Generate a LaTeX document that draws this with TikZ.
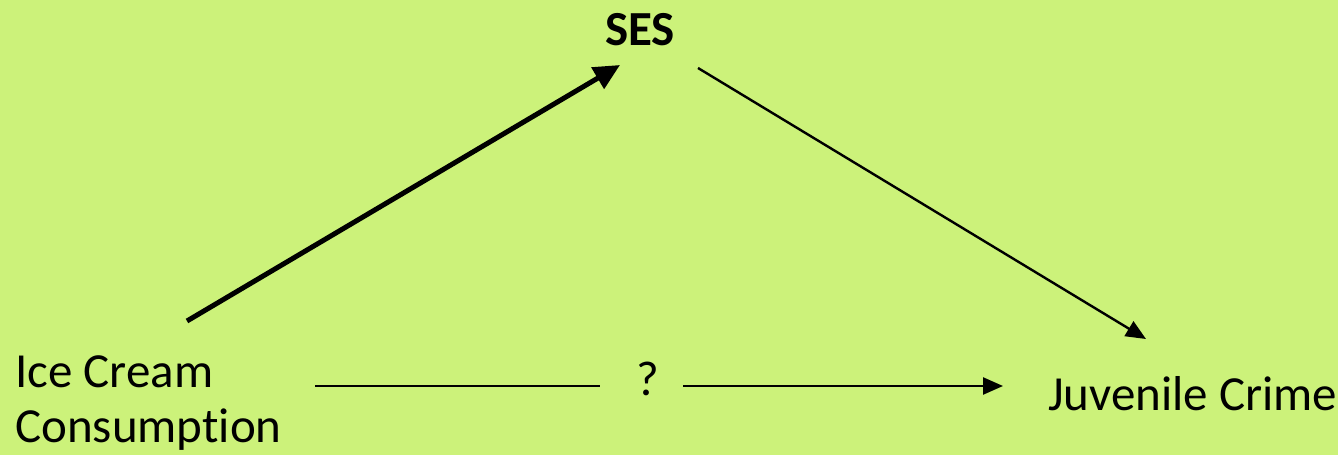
\documentclass[tikz,border=0pt]{standalone}
\usepackage{fontspec}
\setmainfont{Carlito}[Ligatures=NoCommon]
\usetikzlibrary{arrows.meta}
\definecolor{bggreen}{HTML}{CCF27A}
\begin{document}
\begin{tikzpicture}[x=1pt,y=-1pt,
  lbl/.style={inner sep=0pt,font=\fontsize{49}{55}\selectfont},
  thickarrow/.style={line width=5pt,-{Triangle[length=26pt,width=24pt]}},
  thinarrow/.style={line width=2.4pt,-{Triangle[length=20pt,width=17pt]}},
  thinline/.style={line width=2.4pt}]
\fill[bggreen] (0,0) rectangle (1338,455);
\useasboundingbox (0,0) rectangle (1338,455);
\node[lbl,font=\fontsize{49}{55}\selectfont\bfseries,anchor=base] (ses) at (640,45) {SES};
\node[lbl,anchor=base west,align=left] (ice) at (15,442) {Ice Cream\\Consumption};
\node[lbl,anchor=base west] (juv) at (1048,410) {Juvenile Crime};
\node[lbl,anchor=base] (q) at (648,395) {?};
\coordinate (a1) at (187,321);
\coordinate (a2) at (620,65);
\coordinate (b1) at (698,68);
\coordinate (b2) at (1146,339);
\coordinate (c1) at (315,386);
\coordinate (c2) at (600,386);
\coordinate (d1) at (683,386);
\coordinate (d2) at (1003,386);
\draw[thickarrow] (a1) -- (a2);
\draw[thinarrow] (b1) -- (b2);
\draw[thinline] (c1) -- (c2);
\draw[thinarrow] (d1) -- (d2);
\end{tikzpicture}
\end{document}
